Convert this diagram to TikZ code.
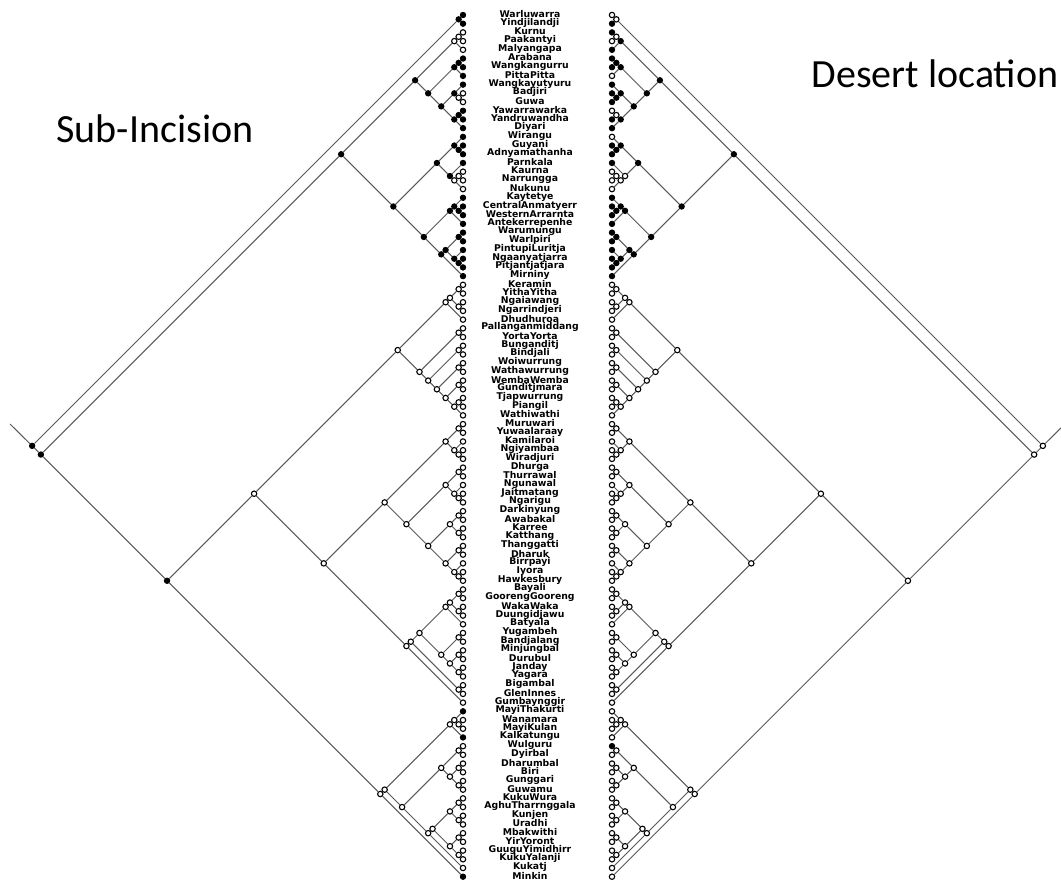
\documentclass[tikz,border=0pt]{standalone}
\usepackage{fontspec}
\setmainfont{Carlito}
\newfontfamily\namefont{DejaVu Sans}
\def\treeT{1/100/2/f/o,1/2/1/f/o,3/100/31/f/o,3/31/14/f/f,3/14/5/f/f,3/5/4/o/f,3/4/3/o/o,6/14/8/f/f,6/8/7/f/f,6/7/6/f/f,9/14/11/f/f,9/11/9/f/f,10/11/10/o/f,12/14/13/f/f,12/13/12/f/o,15/31/21/f/f,15/21/17/f/f,15/17/15/f/f,16/17/16/f/f,18/21/18/f/o,19/21/20/o/o,19/20/19/o/o,22/31/25/f/f,22/25/24/f/f,22/24/22/f/f,23/24/23/f/f,26/31/30/f/f,26/30/27/f/f,26/27/26/f/f,28/30/28/f/f,29/30/29/f/f,32/100/80/f/o,32/80/47/o/o,32/47/36/o/o,32/36/35/o/o,32/35/33/o/o,32/33/32/o/o,34/35/34/o/o,37/47/38/o/o,37/38/37/o/o,39/47/40/o/o,39/40/39/o/o,41/47/42/o/o,41/42/41/o/o,43/47/44/o/o,43/44/43/o/o,45/47/46/o/o,45/46/45/o/o,48/80/66/o/o,48/66/52/o/o,48/52/49/o/o,48/49/48/o/o,50/52/50/o/o,51/52/51/o/o,53/66/57/o/o,53/57/54/o/o,53/54/53/o/o,55/57/55/o/o,56/57/56/o/o,58/66/61/o/o,58/61/59/o/o,58/59/58/o/o,60/61/60/o/o,62/66/63/o/o,62/63/62/o/o,64/66/64/o/o,65/66/65/o/o,67/80/79/o/o,67/79/77/o/o,67/77/71/o/o,67/71/70/o/o,67/70/68/o/o,67/68/67/o/o,69/70/69/o/o,72/77/73/o/o,72/73/72/o/o,74/77/75/o/o,74/75/74/o/o,76/77/76/o/o,78/79/78/o/o,81/100/99/o/o,81/99/84/o/o,81/84/83/o/o,81/83/81/o/o,82/83/82/o/o,85/99/90/o/o,85/90/86/o/o,85/86/85/o/o,87/90/88/o/o,87/88/87/o/o,89/90/89/o/o,91/99/98/o/o,91/98/94/o/o,91/94/92/o/o,91/92/91/o/o,93/94/93/o/o,95/98/96/o/o,95/96/95/o/o,97/98/97/o/o}
\def\leafL{1/f,2/f,3/o,4/o,5/o,6/f,7/f,8/f,9/f,10/o,11/o,12/f,13/f,14/f,15/f,16/f,17/f,18/f,19/o,20/o,21/o,22/f,23/f,24/f,25/f,26/f,27/f,28/f,29/f,30/f,31/f,32/o,33/o,34/o,35/o,36/o,37/o,38/o,39/o,40/o,41/o,42/o,43/o,44/o,45/o,46/o,47/o,48/o,49/o,50/o,51/o,52/o,53/o,54/o,55/o,56/o,57/o,58/o,59/o,60/o,61/o,62/o,63/o,64/o,65/o,66/o,67/o,68/o,69/o,70/o,71/o,72/o,73/o,74/o,75/o,76/o,77/o,78/o,79/o,80/o,81/f,82/o,83/o,84/f,85/o,86/o,87/o,88/o,89/o,90/o,91/o,92/o,93/o,94/o,95/o,96/o,97/o,98/o,99/o,100/f}
\def\leafR{1/o,2/f,3/f,4/o,5/f,6/f,7/f,8/o,9/f,10/f,11/f,12/o,13/f,14/f,15/o,16/f,17/f,18/f,19/o,20/o,21/o,22/f,23/f,24/f,25/f,26/f,27/f,28/f,29/f,30/f,31/f,32/o,33/o,34/o,35/o,36/o,37/o,38/o,39/o,40/o,41/o,42/o,43/o,44/o,45/o,46/o,47/o,48/o,49/o,50/o,51/o,52/o,53/o,54/o,55/o,56/o,57/o,58/o,59/o,60/o,61/o,62/o,63/o,64/o,65/o,66/o,67/o,68/o,69/o,70/o,71/o,72/o,73/o,74/o,75/o,76/o,77/o,78/o,79/o,80/o,81/o,82/o,83/o,84/o,85/f,86/o,87/o,88/o,89/o,90/o,91/o,92/o,93/o,94/o,95/o,96/o,97/o,98/o,99/o,100/o}
\def\names{Warluwarra,Yindjilandji,Kurnu,Paakantyi,Malyangapa,Arabana,Wangkangurru,PittaPitta,Wangkayutyuru,Badjiri,Guwa,Yawarrawarka,Yandruwandha,Diyari,Wirangu,Guyani,Adnyamathanha,Parnkala,Kaurna,Narrungga,Nukunu,Kaytetye,CentralAnmatyerr,WesternArrarnta,Antekerrepenhe,Warumungu,Warlpiri,PintupiLuritja,Ngaanyatjarra,Pitjantjatjara,Mirniny,Keramin,YithaYitha,Ngaiawang,Ngarrindjeri,Dhudhuroa,Pallanganmiddang,YortaYorta,Bunganditj,Bindjali,Woiwurrung,Wathawurrung,WembaWemba,Gunditjmara,Tjapwurrung,Piangil,Wathiwathi,Muruwari,Yuwaalaraay,Kamilaroi,Ngiyambaa,Wiradjuri,Dhurga,Thurrawal,Ngunawal,Jaitmatang,Ngarigu,Darkinyung,Awabakal,Karree,Katthang,Thanggatti,Dharuk,Birrpayi,Iyora,Hawkesbury,Bayali,GoorengGooreng,WakaWaka,Duungidjawu,Batyala,Yugambeh,Bandjalang,Minjungbal,Durubul,Janday,Yagara,Bigambal,GlenInnes,Gumbaynggir,MayiThakurti,Wanamara,MayiKulan,Kalkatungu,Wulguru,Dyirbal,Dharumbal,Biri,Gunggari,Guwamu,KukuWura,AghuTharrnggala,Kunjen,Uradhi,Mbakwithi,YirYoront,GuuguYimidhirr,KukuYalanji,Kukatj,Minkin}
\begin{document}
\begin{tikzpicture}[x=1pt,y=-1pt,
  edge/.style={draw=black!65, line width=1pt},
  dotf/.style={circle, draw=black, fill=black, line width=0.9pt, inner sep=0pt, minimum size=5.4pt},
  doto/.style={circle, draw=black, fill=white, line width=1.1pt, inner sep=0pt, minimum size=5.4pt},
  lang/.style={font=\namefont\bfseries\fontsize{9.3}{9.3}\selectfont, inner sep=0pt},
  title/.style={font=\fontsize{40}{48}\selectfont, inner sep=0pt}]
\useasboundingbox (0,0) rectangle (1061,881);
\fill[white] (0,0) rectangle (1061,881);
% titles
\node[title] (tl) at (155,129) {Sub-Incision};
\node[title] (tr) at (935,74) {Desert location};
% names
\foreach \nm [count=\i] in \names {
  \pgfmathsetmacro\yy{14+(\i-1)*8.704}
  \node[lang] (nm\i) at (530,\yy) {\nm};
}
% left leaves and nodes
\foreach \i/\s in \leafL {
  \pgfmathsetmacro\yy{15+(\i-1)*8.704}
  \node[dot\s] (L\i-\i) at (463,\yy) {};
}
\foreach \a/\b/\k/\s/\t in \treeT {
  \pgfmathsetmacro\xx{463-(\b-\a)*4.352}
  \pgfmathsetmacro\yy{15+((\a+\b)/2-1)*8.704}
  \node[dot\s] (L\a-\b) at (\xx,\yy) {};
}
\foreach \a/\b/\k/\s/\t in \treeT {
  \pgfmathtruncatemacro\kk{\k+1}
  \draw[edge] (L\a-\b) -- (L\a-\k);
  \draw[edge] (L\a-\b) -- (L\kk-\b);
}
\coordinate (Lstem) at (10,424);
\draw[edge] (Lstem) -- (L1-100);
% right leaves and nodes
\foreach \i/\s in \leafR {
  \pgfmathsetmacro\yy{15+(\i-1)*8.704}
  \node[dot\s] (R\i-\i) at (612,\yy) {};
}
\foreach \a/\b/\k/\s/\t in \treeT {
  \pgfmathsetmacro\xx{612+(\b-\a)*4.352}
  \pgfmathsetmacro\yy{15+((\a+\b)/2-1)*8.704}
  \node[dot\t] (R\a-\b) at (\xx,\yy) {};
}
\foreach \a/\b/\k/\s/\t in \treeT {
  \pgfmathtruncatemacro\kk{\k+1}
  \draw[edge] (R\a-\b) -- (R\a-\k);
  \draw[edge] (R\a-\b) -- (R\kk-\b);
}
\coordinate (Rstem) at (1065,424);
\draw[edge] (Rstem) -- (R1-100);
\end{tikzpicture}
\end{document}
